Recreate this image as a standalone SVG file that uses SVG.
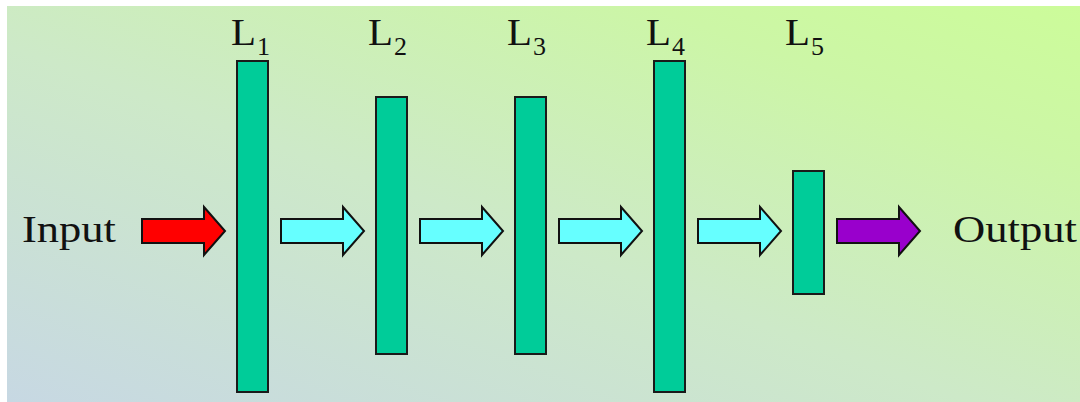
<svg xmlns="http://www.w3.org/2000/svg" xmlns:xlink="http://www.w3.org/1999/xlink" width="1080" height="402" viewBox="0 0 1080 402">
  <defs>
    <linearGradient id="bg" x1="0" y1="1" x2="1" y2="0">
      <stop offset="0" stop-color="#c7d8e3"/>
      <stop offset="0.45" stop-color="#cde9c8"/>
      <stop offset="0.8" stop-color="#ccf6a6"/>
      <stop offset="1" stop-color="#ccfc9a"/>
    </linearGradient>
    <polygon id="blockArrow" points="0,-12 62,-12 62,-24 83,0 62,24 62,12 0,12"/>
  </defs>
  <style>
    .bar { fill: #00cc99; stroke: #1a1a1a; stroke-width: 2; }
    .arr { stroke: #111111; stroke-width: 2; stroke-linejoin: miter; }
    .red { fill: #ff0000; }
    .cyan { fill: #66ffff; }
    .purple { fill: #9900cc; }
    .lbl { font-family: "Liberation Serif", "Times New Roman", serif; fill: #111111; }
    .sub { font-size: 26px; }
  </style>
  <rect x="0" y="0" width="1080" height="402" fill="#ffffff"/>
  <rect x="7" y="6" width="1073" height="396" fill="url(#bg)"/>

  <g id="connectors">
    <use xlink:href="#blockArrow" class="arr red" x="142" y="231"/>
    <use xlink:href="#blockArrow" class="arr cyan" x="281" y="231"/>
    <use xlink:href="#blockArrow" class="arr cyan" x="420" y="231"/>
    <use xlink:href="#blockArrow" class="arr cyan" x="559" y="231"/>
    <use xlink:href="#blockArrow" class="arr cyan" x="698" y="231"/>
    <use xlink:href="#blockArrow" class="arr purple" x="837" y="231"/>
  </g>

  <g id="input">
    <text class="lbl" x="22" y="242" font-size="37" textLength="94" lengthAdjust="spacingAndGlyphs">Input</text>
  </g>
  <g id="output">
    <text class="lbl" x="953" y="242" font-size="37" textLength="124" lengthAdjust="spacingAndGlyphs">Output</text>
  </g>

  <g id="L1">
    <rect class="bar" x="237" y="61" width="31" height="331"/>
    <text class="lbl" font-size="37"><tspan x="231" y="45" textLength="25" lengthAdjust="spacingAndGlyphs">L</tspan><tspan class="sub" x="257" y="55">1</tspan></text>
  </g>
  <g id="L2">
    <rect class="bar" x="376" y="97" width="31" height="257"/>
    <text class="lbl" font-size="37"><tspan x="368" y="45" textLength="25" lengthAdjust="spacingAndGlyphs">L</tspan><tspan class="sub" x="394" y="55">2</tspan></text>
  </g>
  <g id="L3">
    <rect class="bar" x="515" y="97" width="31" height="257"/>
    <text class="lbl" font-size="37"><tspan x="507" y="45" textLength="25" lengthAdjust="spacingAndGlyphs">L</tspan><tspan class="sub" x="533" y="55">3</tspan></text>
  </g>
  <g id="L4">
    <rect class="bar" x="654" y="61" width="31" height="331"/>
    <text class="lbl" font-size="37"><tspan x="646" y="45" textLength="25" lengthAdjust="spacingAndGlyphs">L</tspan><tspan class="sub" x="672" y="55">4</tspan></text>
  </g>
  <g id="L5">
    <rect class="bar" x="793" y="171" width="31" height="123"/>
    <text class="lbl" font-size="37"><tspan x="785" y="45" textLength="25" lengthAdjust="spacingAndGlyphs">L</tspan><tspan class="sub" x="811" y="55">5</tspan></text>
  </g>
</svg>
